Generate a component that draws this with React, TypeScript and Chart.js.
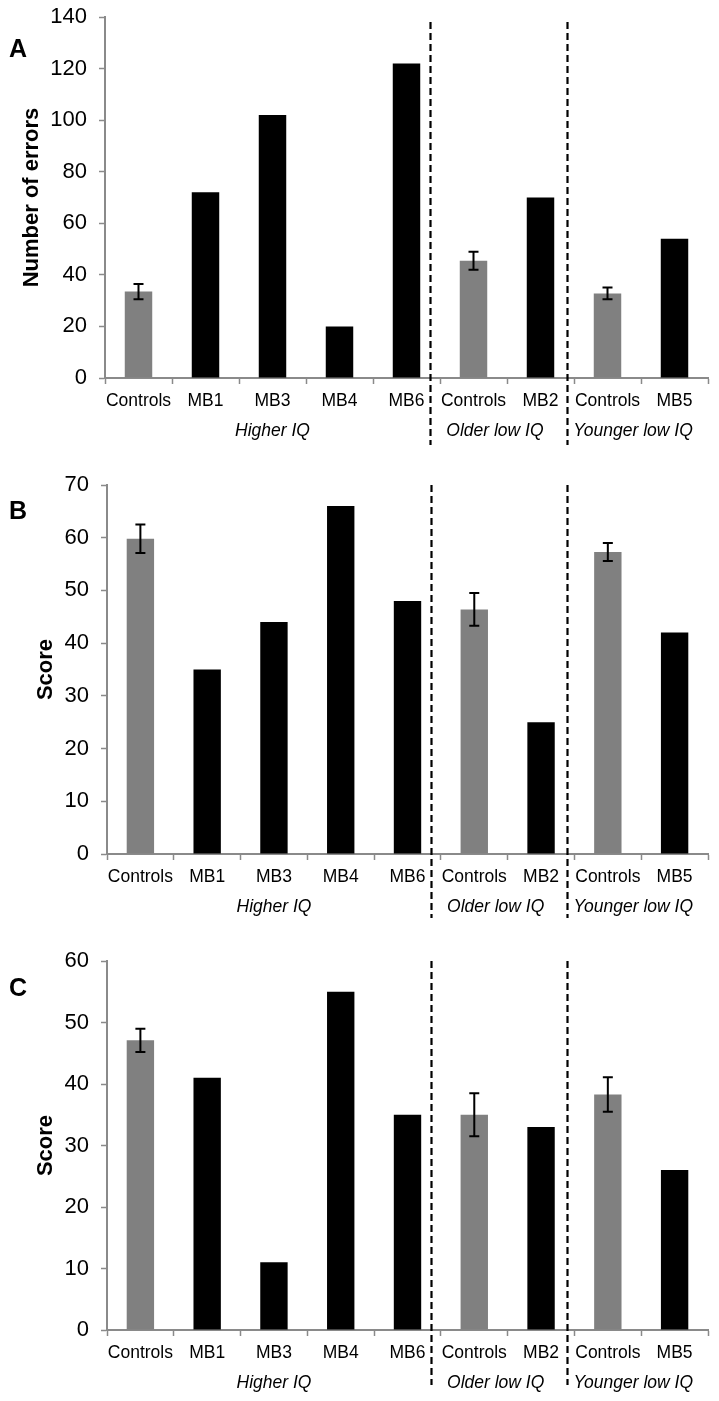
import React, { useEffect, useRef } from "react";
import { Chart, registerables } from "chart.js";

Chart.register(...registerables);

const categories = ["Controls", "MB1", "MB3", "MB4", "MB6", "Controls", "MB2", "Controls", "MB5"];
const isControl = [true, false, false, false, false, true, false, true, false];

const errorsA = [33.5, 72, 102, 20, 122, 45.5, 70, 32.8, 54];
const errA = [3, 0, 0, 0, 0, 3.5, 0, 2.3, 0];

const scoreB = [59.8, 35, 44, 66, 48, 46.4, 25, 57.3, 42];
const errB = [2.7, 0, 0, 0, 0, 3.1, 0, 1.7, 0];

const scoreC = [47.1, 41, 11, 55, 35, 35, 33, 38.3, 26];
const errC = [1.9, 0, 0, 0, 0, 3.5, 0, 2.8, 0];

const groupLabels = ["Higher IQ", "Older low IQ", "Younger low IQ"];
const groupCenters = [2, 5.32, 7.38];
const dividers = [4.35, 6.39];

const FONT = "'Liberation Sans', Arial, sans-serif";

const decorPlugin = {
  id: "decor",
  afterDatasetsDraw(chart: any, _args: any, opts: any) {
    const ctx = chart.ctx;
    const x = chart.scales.x;
    const y = chart.scales.y;
    const ca = chart.chartArea;
    ctx.save();
    // error bars
    const meta = chart.getDatasetMeta(0);
    const vals = chart.data.datasets[0].data;
    ctx.strokeStyle = "#000";
    ctx.lineWidth = 2;
    opts.err.forEach((e: number, i: number) => {
      if (!e) return;
      const px = meta.data[i].x;
      const yTop = y.getPixelForValue(vals[i] + e);
      const yBot = y.getPixelForValue(vals[i] - e);
      ctx.beginPath();
      ctx.moveTo(px, yTop);
      ctx.lineTo(px, yBot);
      ctx.moveTo(px - 5, yTop);
      ctx.lineTo(px + 5, yTop);
      ctx.moveTo(px - 5, yBot);
      ctx.lineTo(px + 5, yBot);
      ctx.stroke();
    });
    // dividers
    ctx.setLineDash([7, 4]);
    ctx.lineWidth = 2.2;
    dividers.forEach((d) => {
      const px = Math.round(x.getPixelForValue(d)) + 0.5;
      ctx.beginPath();
      ctx.moveTo(px, opts.dashTop);
      ctx.lineTo(px, opts.dashBottom);
      ctx.stroke();
    });
    ctx.setLineDash([]);
    // group labels
    ctx.fillStyle = "#000";
    ctx.font = `italic 17.5px ${FONT}`;
    ctx.textAlign = "center";
    ctx.textBaseline = "middle";
    groupLabels.forEach((g, i) => {
      ctx.fillText(g, x.getPixelForValue(groupCenters[i]), ca.bottom + 53);
    });
    // panel letter
    ctx.font = `bold 25px ${FONT}`;
    ctx.textAlign = "center";
    ctx.textBaseline = "alphabetic";
    ctx.fillText(opts.letter, 18, opts.letterY);
    ctx.restore();
  },
};

type PanelProps = {
  top: number;
  height: number;
  values: number[];
  err: number[];
  max: number;
  step: number;
  title: string;
  titlePad: number;
  padTop: number;
  axisWidth: number;
  chartBottom: number;
  letter: string;
  letterY: number;
  dashTop: number;
  dashBottom: number;
};

function Panel(p: PanelProps) {
  const ref = useRef<HTMLCanvasElement | null>(null);
  useEffect(() => {
    if (!ref.current) return;
    const xHeight = 60;
    const padBottom = p.height - p.chartBottom - xHeight;
    const chart = new Chart(ref.current, {
      type: "bar",
      data: {
        labels: categories,
        datasets: [
          {
            data: p.values,
            backgroundColor: isControl.map((c) => (c ? "#808080" : "#000000")),
            borderWidth: 0,
            barPercentage: 0.41,
            categoryPercentage: 1,
          },
        ],
      },
      plugins: [decorPlugin],
      options: {
        animation: false,
        responsive: false,
        maintainAspectRatio: false,
        devicePixelRatio: 1,
        layout: { padding: { top: p.padTop, left: 0, right: 719 - 708, bottom: padBottom } },
        plugins: {
          legend: { display: false },
          tooltip: { enabled: false },
          decor: {
            err: p.err,
            letter: p.letter,
            letterY: p.letterY,
            dashTop: p.dashTop,
            dashBottom: p.dashBottom,
          },
        } as any,
        scales: {
          x: {
            offset: true,
            grid: {
              display: true,
              offset: true,
              drawOnChartArea: false,
              drawTicks: true,
              tickLength: 6,
              tickColor: "#8a8a8a",
              tickWidth: 1.5,
            },
            border: { display: true, color: "#8a8a8a", width: 2 },
            ticks: {
              color: "#000",
              font: { family: FONT, size: 17.5 },
              padding: 7,
              maxRotation: 0,
              autoSkip: false,
            },
            afterFit: (s: any) => {
              s.height = xHeight;
              s.paddingLeft = 0;
              s.paddingRight = 0;
            },
          },
          y: {
            min: 0,
            max: p.max,
            grid: {
              display: true,
              drawOnChartArea: false,
              drawTicks: true,
              tickLength: 6,
              tickColor: "#8a8a8a",
              tickWidth: 1.5,
            },
            border: { display: true, color: "#8a8a8a", width: 2 },
            ticks: {
              stepSize: p.step,
              color: "#000",
              font: { family: FONT, size: 22 },
              padding: 12,
            },
            title: {
              display: true,
              text: p.title,
              color: "#000",
              font: { family: FONT, size: 22, weight: "bold" },
              padding: { top: p.titlePad, bottom: 0 },
            },
            afterFit: (s: any) => {
              s.width = p.axisWidth;
              s.paddingTop = 0;
              s.paddingBottom = 0;
            },
          },
        },
      },
    });
    return () => chart.destroy();
  }, []);
  return (
    <canvas
      ref={ref}
      width={719}
      height={p.height}
      style={{ position: "absolute", left: 0, top: p.top, width: 719, height: p.height }}
    />
  );
}

export default function App() {
  return (
    <div style={{ position: "fixed", left: 0, top: 0, width: 719, height: 1401, background: "#fff" }}>
      <Panel
        top={0}
        height={460}
        values={errorsA}
        err={errA}
        max={140}
        step={20}
        title="Number of errors"
        titlePad={19}
        padTop={17}
        axisWidth={105}
        chartBottom={378}
        letter="A"
        letterY={57}
        dashTop={22}
        dashBottom={445}
      />
      <Panel
        top={460}
        height={460}
        values={scoreB}
        err={errB}
        max={70}
        step={10}
        title="Score"
        titlePad={33}
        padTop={25}
        axisWidth={107}
        chartBottom={394}
        letter="B"
        letterY={59}
        dashTop={25}
        dashBottom={458}
      />
      <Panel
        top={920}
        height={481}
        values={scoreC}
        err={errC}
        max={60}
        step={10}
        title="Score"
        titlePad={33}
        padTop={41}
        axisWidth={107}
        chartBottom={410}
        letter="C"
        letterY={76}
        dashTop={41}
        dashBottom={465}
      />
    </div>
  );
}
